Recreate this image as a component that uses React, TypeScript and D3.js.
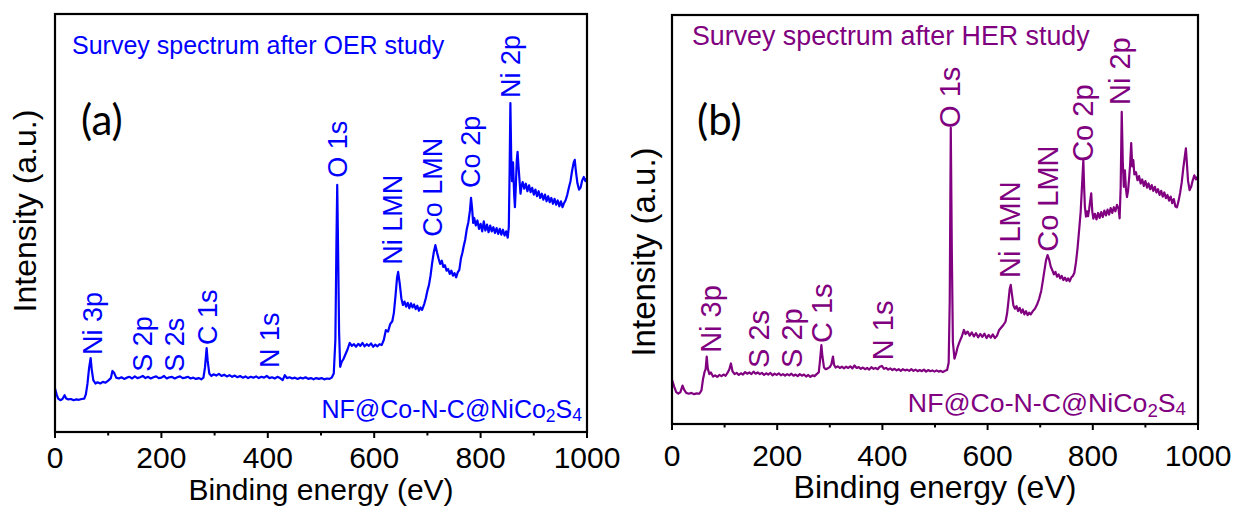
import React from 'react';
import * as d3 from 'd3';

// x axis ticks (binding energy, eV)
const xTicks = [0, 200, 400, 600, 800, 1000];
const xMinorTicks = [100, 300, 500, 700, 900];

// survey spectrum after OER study: [binding energy (eV), intensity (a.u.)]
const oerSpectrum: [number, number][] = [
  [0, 10.4], [3, 9.0], [6, 8.0], [10, 7.6], [14, 7.9], [18, 8.8], [21, 8.0], [25, 7.8], [30, 7.9], [35, 7.6],
  [40, 7.8], [45, 7.7], [50, 7.9], [55, 8.0], [58, 9.0], [61, 11.5], [64, 15.2], [67, 17.7], [69, 15.0], [72, 12.4],
  [76, 11.6], [80, 11.9], [85, 11.6], [90, 12.0], [95, 11.8], [100, 12.3], [105, 12.9], [108, 14.6], [111, 14.2], [115, 13.0],
  [120, 12.8], [125, 13.1], [130, 12.7], [135, 13.0], [140, 13.2], [145, 12.8], [150, 13.3], [155, 12.9], [160, 13.1], [165, 13.4],
  [170, 12.9], [175, 13.2], [180, 12.8], [185, 13.1], [190, 13.3], [195, 12.9], [200, 13.0], [205, 13.4], [210, 12.8], [215, 13.1],
  [220, 13.2], [225, 12.8], [230, 13.1], [235, 13.3], [240, 12.9], [245, 13.0], [250, 13.2], [255, 12.8], [260, 13.0], [265, 12.7],
  [270, 12.9], [275, 12.6], [279, 13.0], [282, 15.5], [285, 20.1], [287, 17.0], [290, 14.0], [294, 13.4], [298, 13.8], [303, 13.5],
  [308, 13.9], [313, 13.4], [318, 13.7], [323, 13.3], [328, 13.6], [333, 13.2], [338, 13.5], [343, 13.1], [348, 13.4], [353, 13.0],
  [358, 13.3], [363, 12.9], [368, 13.2], [373, 13.0], [378, 13.3], [383, 12.9], [388, 13.2], [393, 13.0], [398, 13.4], [403, 12.9],
  [408, 13.1], [413, 12.8], [418, 13.2], [423, 12.9], [428, 12.4], [432, 13.6], [436, 12.9], [441, 13.1], [446, 12.8], [451, 13.0],
  [456, 12.7], [461, 13.0], [466, 12.8], [471, 13.1], [476, 12.7], [481, 12.9], [486, 12.6], [491, 12.9], [496, 12.7], [501, 12.9],
  [506, 12.6], [511, 12.8], [516, 12.7], [520, 13.0], [524, 14.0], [527, 22.0], [529, 45.0], [530.5, 59.1], [532, 45.0], [534, 24.0],
  [536, 15.6], [539, 16.8], [542, 17.4], [546, 18.6], [550, 19.8], [554, 21.3], [558, 20.6], [562, 21.0], [566, 20.4], [570, 21.1],
  [574, 20.6], [578, 21.3], [582, 20.5], [586, 21.0], [590, 20.6], [594, 21.2], [598, 20.4], [602, 20.9], [606, 20.5], [610, 21.0],
  [614, 20.8], [618, 22.0], [622, 24.4], [626, 24.0], [630, 25.8], [634, 26.5], [637, 28.5], [640, 32.5], [643, 37.0], [645, 38.3],
  [648, 35.5], [651, 32.0], [654, 30.4], [657, 31.2], [660, 30.0], [663, 30.9], [666, 29.6], [669, 30.8], [672, 29.8], [675, 30.5],
  [678, 29.4], [681, 30.2], [684, 29.0], [687, 29.8], [690, 29.2], [694, 30.6], [697, 32.0], [700, 33.8], [703, 35.2], [706, 37.5],
  [709, 40.5], [712, 43.0], [715, 44.7], [718, 43.0], [721, 41.5], [724, 40.2], [727, 41.0], [730, 39.5], [733, 39.9], [736, 38.6],
  [739, 39.0], [742, 37.8], [745, 38.6], [748, 37.4], [751, 38.0], [754, 37.0], [757, 38.2], [760, 38.8], [763, 41.5], [766, 43.0],
  [768, 44.3], [771, 46.0], [774, 48.5], [777, 50.2], [780, 53.0], [782, 56.0], [784, 53.5], [786, 50.0], [788, 51.2], [791, 49.4],
  [794, 50.6], [797, 48.6], [800, 49.8], [803, 48.0], [806, 50.4], [809, 48.2], [812, 49.6], [815, 47.8], [818, 49.4], [821, 48.0],
  [824, 49.0], [827, 47.6], [830, 48.8], [833, 47.4], [836, 48.6], [839, 47.2], [842, 48.4], [845, 47.0], [848, 48.0], [851, 46.5],
  [853, 49.0], [854.5, 62.0], [856, 78.7], [857.5, 66.0], [859, 60.0], [861, 64.5], [863, 57.0], [864.5, 53.8], [866, 58.0], [868, 65.0],
  [869.5, 67.0], [871, 64.0], [873, 60.5], [875, 57.0], [877, 58.8], [879, 59.8], [882, 58.2], [885, 59.4], [888, 57.6], [891, 59.0],
  [894, 57.4], [897, 58.4], [900, 56.8], [903, 58.0], [906, 56.4], [909, 57.6], [912, 56.0], [915, 57.0], [918, 55.6], [921, 56.8],
  [924, 55.2], [927, 56.4], [930, 55.0], [933, 56.0], [936, 54.6], [939, 55.8], [942, 54.4], [945, 55.4], [948, 54.0], [951, 55.2],
  [954, 53.8], [957, 54.8], [960, 55.5], [963, 56.8], [966, 58.5], [969, 60.0], [972, 62.5], [975, 64.5], [977, 65.1], [979, 62.5],
  [982, 59.5], [985, 58.0], [988, 58.5], [991, 60.2], [994, 61.0], [997, 60.0], [1000, 60.8],
];

// survey spectrum after HER study
const herSpectrum: [number, number][] = [
  [0, 10.8], [4, 9.2], [8, 7.8], [12, 7.4], [16, 7.8], [20, 9.4], [23, 8.4], [27, 7.6], [32, 7.4], [37, 7.6],
  [42, 7.3], [47, 7.5], [52, 7.4], [56, 8.2], [59, 11.0], [62, 12.8], [64, 13.4], [66, 16.5], [68, 13.6], [71, 12.2],
  [74, 12.6], [78, 11.6], [82, 11.9], [86, 11.5], [90, 12.0], [94, 11.7], [98, 12.1], [102, 11.8], [106, 12.6], [109, 13.4],
  [112, 14.8], [115, 12.9], [119, 12.2], [123, 12.5], [127, 12.0], [131, 12.4], [135, 12.1], [139, 12.7], [143, 12.3], [147, 12.6],
  [151, 12.2], [155, 12.8], [159, 12.3], [163, 12.6], [167, 12.2], [171, 12.5], [175, 12.0], [179, 12.4], [183, 12.1], [187, 12.5],
  [191, 11.9], [195, 12.3], [199, 12.0], [203, 12.4], [207, 11.9], [211, 12.2], [215, 11.8], [219, 12.2], [223, 11.9], [227, 12.3],
  [231, 11.8], [235, 12.1], [239, 11.7], [243, 12.2], [247, 11.8], [251, 12.1], [255, 11.6], [259, 12.0], [263, 11.5], [267, 11.9],
  [271, 11.7], [275, 12.2], [279, 12.6], [281, 15.0], [284, 19.3], [286, 16.5], [289, 13.8], [292, 13.4], [296, 13.6], [300, 13.9],
  [303, 14.6], [306, 16.5], [308, 14.5], [311, 13.8], [315, 14.1], [319, 13.7], [323, 14.0], [327, 13.6], [331, 14.0], [335, 13.7],
  [339, 14.1], [343, 13.6], [347, 14.3], [351, 13.7], [355, 13.9], [359, 13.5], [363, 13.8], [367, 13.4], [371, 13.7], [375, 13.3],
  [379, 13.9], [383, 13.5], [387, 13.7], [391, 13.4], [395, 14.0], [399, 14.2], [403, 13.5], [407, 13.7], [411, 13.3], [415, 13.6],
  [419, 13.2], [423, 13.5], [427, 13.1], [431, 13.4], [435, 13.0], [439, 13.4], [443, 13.1], [447, 13.3], [451, 13.0], [455, 13.4],
  [459, 13.0], [463, 13.3], [467, 12.9], [471, 13.2], [475, 12.9], [479, 13.3], [483, 12.8], [487, 13.2], [491, 12.9], [495, 13.1],
  [499, 12.8], [503, 13.1], [507, 12.8], [511, 13.0], [515, 12.7], [519, 13.0], [523, 13.2], [526, 15.0], [528, 30.0], [530, 72.4],
  [532, 42.0], [534, 20.0], [537, 16.0], [540, 17.2], [543, 18.8], [547, 20.2], [551, 21.4], [555, 23.0], [558, 22.0], [562, 22.6],
  [566, 21.6], [570, 22.4], [574, 21.4], [578, 22.2], [582, 21.2], [586, 22.0], [590, 21.3], [594, 22.1], [598, 21.0], [602, 21.8],
  [606, 21.1], [610, 21.9], [614, 21.0], [618, 21.6], [622, 23.0], [626, 23.6], [630, 24.2], [634, 25.0], [637, 27.0], [640, 30.5],
  [642, 33.0], [644, 34.0], [646, 32.0], [649, 29.0], [652, 28.2], [655, 28.8], [658, 27.6], [661, 28.4], [664, 27.2], [667, 28.0],
  [670, 26.8], [673, 27.6], [676, 26.6], [679, 27.2], [682, 26.8], [686, 27.6], [690, 28.2], [694, 29.2], [698, 30.6], [702, 32.6],
  [705, 35.0], [708, 37.5], [711, 40.0], [714, 41.3], [717, 40.2], [720, 38.5], [723, 37.6], [726, 36.6], [729, 37.2], [732, 36.0],
  [735, 36.6], [738, 35.6], [741, 36.2], [744, 35.2], [747, 35.8], [750, 35.0], [753, 35.6], [756, 34.9], [759, 35.8], [762, 36.2],
  [765, 37.0], [768, 39.5], [771, 43.0], [774, 47.4], [777, 52.0], [779, 57.0], [781, 62.0], [782, 64.5], [783.5, 58.0], [785, 53.0],
  [787, 50.7], [789, 52.0], [791, 50.8], [793, 52.4], [795, 54.5], [797, 56.4], [799, 52.0], [801, 50.2], [804, 51.4], [807, 50.0],
  [810, 51.6], [813, 50.4], [816, 51.8], [819, 50.6], [822, 52.2], [825, 51.0], [828, 52.4], [831, 51.2], [834, 52.8], [837, 51.6],
  [840, 53.0], [843, 52.0], [846, 53.6], [849, 52.6], [851, 50.3], [853, 58.0], [855, 76.3], [857, 64.0], [859, 58.0], [861, 62.0],
  [863, 57.5], [865, 55.5], [867, 57.0], [869, 60.0], [871, 63.5], [873, 68.7], [875, 63.0], [877, 64.5], [879, 61.0], [882, 61.6],
  [885, 59.6], [888, 60.6], [891, 58.8], [894, 59.8], [897, 58.2], [900, 59.4], [903, 57.8], [906, 58.8], [909, 57.4], [912, 58.4],
  [915, 57.0], [918, 58.0], [921, 56.6], [924, 57.4], [927, 56.0], [930, 57.0], [933, 55.6], [936, 56.6], [939, 55.2], [942, 56.0],
  [945, 54.6], [948, 55.6], [951, 54.0], [954, 55.0], [957, 53.2], [960, 53.0], [963, 54.5], [966, 56.5], [969, 59.0], [972, 62.5],
  [975, 65.5], [977, 67.4], [979, 63.5], [981, 59.5], [984, 57.2], [987, 58.0], [990, 59.6], [993, 60.8], [996, 59.8], [1000, 60.6],
];

// peak labels: [text, energy (eV), intensity where the label starts]
const oerPeaks: [string, number, number][] = [
  ['Ni 3p', 71, 18.4], ['S 2p', 164, 14.4], ['S 2s', 225, 14.4], ['C 1s', 286, 20.8], ['N 1s', 404, 15.3],
  ['O 1s', 532, 60.8], ['Ni LMN', 635, 40.0], ['Co LMN', 710, 46.7], ['Co 2p', 781, 58.4], ['Ni 2p', 857, 79.9],
];
const herPeaks: [string, number, number][] = [
  ['Ni 3p', 74, 17.4], ['S 2s', 166, 13.7], ['S 2p', 227, 13.7], ['C 1s', 284, 19.8], ['N 1s', 400, 15.6],
  ['O 1s', 528.5, 72.4], ['Ni LMN', 643, 35.7], ['Co LMN', 714.6, 42.1], ['Co 2p', 781, 64.1], ['Ni 2p', 852, 78.0],
];

const FONT = '"Liberation Sans", Arial, sans-serif';

const panels = [
  {
    id: 'a', letter: '(a)', title: 'Survey spectrum after OER study', color: '#0000ff',
    data: oerSpectrum, peaks: oerPeaks,
    left: 55, right: 587, top: 14, bottom: 432,
    titleX: 72, titleY: 54, titleSize: 25,
    letterX: 81, letterY: 135,
    noteX: 582, noteY: 418, noteSize: 25,
    peakSize: 27, tickY: 468, tickSize: 30,
    xLabelY: 500, xLabelSize: 30,
    yLabelX: 25, yLabelY: 211, yLabelSize: 32,
  },
  {
    id: 'b', letter: '(b)', title: 'Survey spectrum after HER study', color: '#800080',
    data: herSpectrum, peaks: herPeaks,
    left: 672, right: 1198, top: 15, bottom: 424,
    titleX: 692, titleY: 45, titleSize: 26.8,
    letterX: 697, letterY: 135,
    noteX: 1186, noteY: 412, noteSize: 26.7,
    peakSize: 29, tickY: 466, tickSize: 30,
    xLabelY: 498, xLabelSize: 32,
    yLabelX: 643, yLabelY: 252, yLabelSize: 33,
  },
];

type PanelProps = { p: typeof panels[number] };

const Panel = ({ p }: PanelProps) => {
  const xScale = d3.scaleLinear().domain([0, 1000]).range([p.left, p.right]);
  const yScale = d3.scaleLinear().domain([0, 100]).range([p.bottom, p.top]);

  const line = d3.line<[number, number]>()
    .x(d => xScale(d[0]))
    .y(d => yScale(d[1]));

  return (
    <g fontFamily={FONT}>
      <path d={line(p.data) || ''} fill="none" stroke={p.color} strokeWidth={2.2} strokeLinejoin="round" />

      {/* peak labels, rotated */}
      {p.peaks.map(([label, e, v]) => (
        <text key={label} transform={`translate(${xScale(e)},${yScale(v)})rotate(-90)`}
          dy="0.35em" fontSize={p.peakSize} fill={p.color}>{label}</text>
      ))}

      <rect x={p.left} y={p.top} width={p.right - p.left} height={p.bottom - p.top}
        fill="none" stroke="#000" strokeWidth={2.2} />

      {xTicks.map(t => (
        <g key={t}>
          <line x1={xScale(t)} x2={xScale(t)} y1={p.bottom} y2={p.bottom + 6} stroke="#000" strokeWidth={2} />
          <text x={xScale(t)} y={p.tickY} textAnchor="middle" fontSize={p.tickSize}>{t}</text>
        </g>
      ))}
      {xMinorTicks.map(t => (
        <line key={t} x1={xScale(t)} x2={xScale(t)} y1={p.bottom} y2={p.bottom + 3.5} stroke="#000" strokeWidth={2} />
      ))}

      <text x={(p.left + p.right) / 2} y={p.xLabelY} textAnchor="middle" fontSize={p.xLabelSize}>Binding energy (eV)</text>
      <text transform={`translate(${p.yLabelX},${p.yLabelY})rotate(-90)`} dy="0.35em" textAnchor="middle"
        fontSize={p.yLabelSize}>Intensity (a.u.)</text>

      <text x={p.titleX} y={p.titleY} fontSize={p.titleSize} fill={p.color}>{p.title}</text>
      <text x={p.letterX} y={p.letterY} fontSize={42} fontFamily="Lato, sans-serif">{p.letter}</text>

      <text x={p.noteX} y={p.noteY} textAnchor="end" fontSize={p.noteSize} fill={p.color}>
        NF@Co-N-C@NiCo<tspan dy="0.25em" fontSize="0.7em">2</tspan>
        <tspan dy="-0.18em">S</tspan><tspan dy="0.18em" fontSize="0.7em">4</tspan>
      </text>
    </g>
  );
};

const App = () => (
  <div style={{ position: 'absolute', left: 0, top: 0 }}>
    <svg width={1236} height={510} style={{ display: 'block', background: '#fff' }}>
      {panels.map(p => <Panel key={p.id} p={p} />)}
    </svg>
  </div>
);

export default App;
